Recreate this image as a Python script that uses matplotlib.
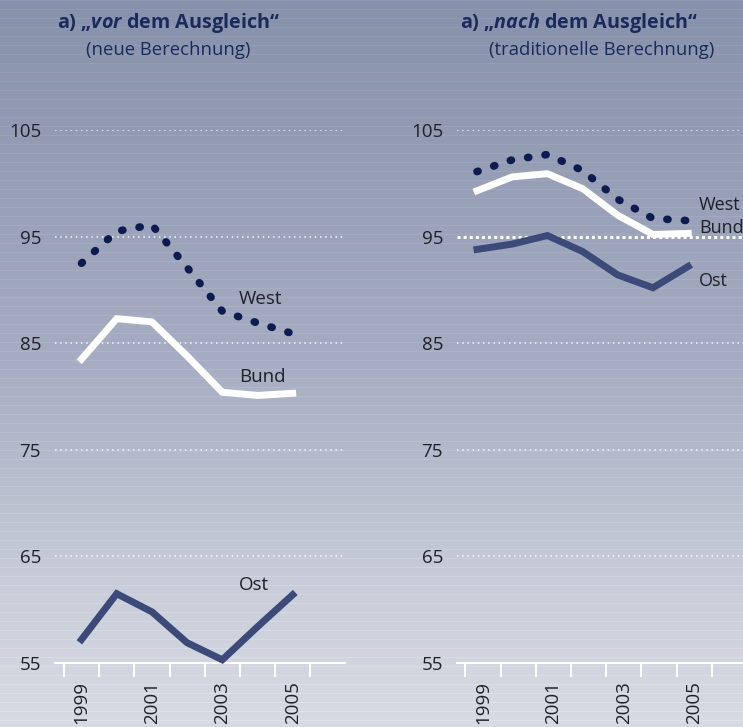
import numpy as np
import matplotlib
matplotlib.use('Agg')
import matplotlib.pyplot as plt

plt.rcParams['font.family'] = ['Open Sans', 'DejaVu Sans']
plt.rcParams['mathtext.fontset'] = 'custom'
plt.rcParams['mathtext.bfit'] = 'Open Sans:italic:bold'

# data
years = [1999, 2000, 2001, 2002, 2003, 2004, 2005]
label_years = [1999, 2001, 2003, 2005]
y_ticks = [55, 65, 75, 85, 95, 105]

vor_west = [92.5, 95.5, 96.1, 92.1, 88.0, 86.9, 85.9]
vor_bund = [83.5, 87.3, 87.0, 83.8, 80.4, 80.1, 80.3]
vor_ost = [57.2, 61.5, 59.8, 56.9, 55.3, 58.4, 61.4]

nach_west = [101.1, 102.2, 102.7, 101.2, 98.5, 96.7, 96.5]
nach_bund = [99.3, 100.6, 100.9, 99.5, 97.0, 95.2, 95.3]
nach_ost = [93.8, 94.3, 95.1, 93.6, 91.4, 90.2, 92.2]

navy = '#1b2a5c'
ost_col = '#3b4a78'
west_col = '#0c1c50'
txt_col = '#1e2128'

W, H = 743, 727
fig = plt.figure(figsize=(W / 100, H / 100), dpi=100)

# striped gradient background
bg = fig.add_axes([0, 0, 1, 1], zorder=-10)
rows = np.arange(H)
stops_y = [0, 360, 600, H]
stops_c = np.array([[136, 145, 171], [166, 173, 194], [203, 207, 218], [216, 219, 227]]) / 255
grad = np.stack([np.interp(rows, stops_y, stops_c[:, k]) for k in range(3)], axis=1)
grad[rows % 9 == 0] += 0.03
img = np.repeat(grad[:, None, :], 2, axis=1)
bg.imshow(np.clip(img, 0, 1), aspect='auto', extent=[0, 1, 0, 1], origin='upper')
bg.set_axis_off()


def make_panel(left_px, xmin, shift, west, bund, ost, bold95):
    ax = fig.add_axes([left_px / W, 64 / H, 290 / W, 533 / H])
    ax.patch.set_visible(False)
    ax.set_xlim(xmin, xmin + 290 / 35.2)
    ax.set_ylim(55, 105)
    for sp in ['top', 'left', 'right']:
        ax.spines[sp].set_visible(False)
    ax.spines['bottom'].set_color('white')
    ax.spines['bottom'].set_linewidth(1.5)

    for v in y_ticks[1:]:
        if bold95 and v == 95:
            ax.axhline(v, color='white', lw=2.2, ls=(0, (1, 1)), zorder=3, clip_on=False,
                       xmax=2)
        else:
            ax.axhline(v, color='white', lw=1.1, ls=(0, (1, 2.4)), alpha=0.9, zorder=1)

    ax.plot(years, ost, color=ost_col, lw=5, solid_joinstyle='miter', zorder=4, clip_on=False)
    ax.plot(years, bund, color='white', lw=5, solid_joinstyle='miter', zorder=4, clip_on=False)
    ax.plot(years, west, color=west_col, lw=5.5, ls=(0, (0.15, 2.15)),
            dash_capstyle='round', zorder=5, clip_on=False)

    ax.set_yticks(y_ticks)
    ax.set_yticklabels([str(v) for v in y_ticks])
    ax.tick_params(axis='y', length=0, pad=10, labelsize=13.5, labelcolor=txt_col)

    ax.set_xticks([y + shift for y in label_years])
    ax.set_xticklabels([str(y) for y in label_years], rotation=90)
    ax.set_xticks([y + shift - 0.5 for y in years + [2006]], minor=True)
    ax.tick_params(axis='x', which='major', length=0, pad=13, labelsize=13.5, labelcolor=txt_col)
    ax.tick_params(axis='x', which='minor', length=10, width=1.5, color='white', direction='out')
    return ax


ax1 = make_panel(55, 1999 - 26.5 / 35.2, 0, vor_west, vor_bund, vor_ost, False)
ax2 = make_panel(457, 1999 - 20 / 35.2, 0.17, nach_west, nach_bund, nach_ost, True)

ax1.text(2003.48, 88.7, 'West', fontsize=13.5, color=txt_col, va='baseline')
ax1.text(2003.48, 81.4, 'Bund', fontsize=13.5, color=txt_col, va='baseline')
ax1.text(2003.48, 61.85, 'Ost', fontsize=13.5, color=txt_col, va='baseline')
ax2.text(2005.30, 97.5, 'West', fontsize=13, color=txt_col, va='baseline', clip_on=False)
ax2.text(2005.30, 95.3, 'Bund', fontsize=13, color=txt_col, va='baseline', clip_on=False)
ax2.text(2005.30, 90.4, 'Ost', fontsize=13, color=txt_col, va='baseline', clip_on=False)

# titles
fig.text(57 / W, 1 - 28 / H, 'a) „$\\mathbfit{vor}$ dem Ausgleich“', fontsize=14.2,
         fontweight='bold', color=navy, va='baseline')
fig.text(86 / W, 1 - 55 / H, '(neue Berechnung)', fontsize=13.3, color=navy, va='baseline')
fig.text(460 / W, 1 - 28 / H, 'a) „$\\mathbfit{nach}$ dem Ausgleich“', fontsize=14.2,
         fontweight='bold', color=navy, va='baseline')
fig.text(489 / W, 1 - 55 / H, '(traditionelle Berechnung)', fontsize=13.3, color=navy,
         va='baseline')

fig.savefig('out.png', dpi=100)
